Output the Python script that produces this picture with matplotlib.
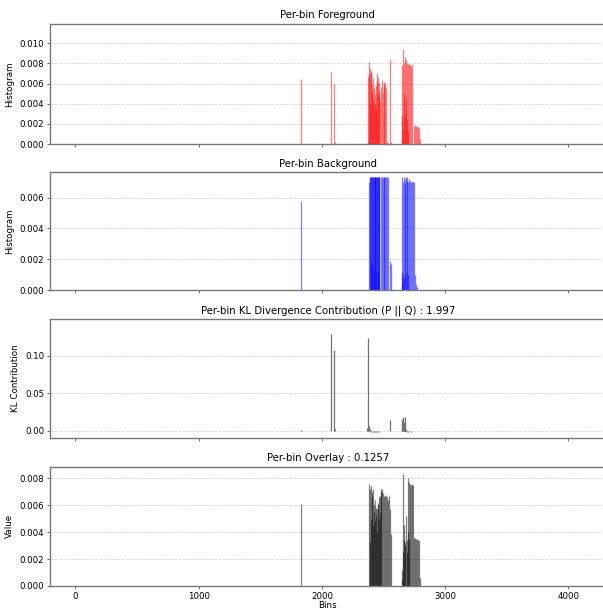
import numpy as np
import matplotlib
matplotlib.use("Agg")
import matplotlib.pyplot as plt
from matplotlib.ticker import MultipleLocator

# foreground histogram (red)
fg_bins = [1828, 2072, 2099, 2108,
           2372, 2376, 2380, 2384, 2388, 2392, 2396, 2400, 2404, 2408, 2412, 2416, 2420,
           2424, 2428, 2432, 2436, 2440, 2444, 2448, 2452, 2456, 2460, 2464, 2468,
           2476, 2484, 2492, 2500, 2508, 2516, 2524, 2532, 2540, 2552, 2560,
           2646, 2650, 2654, 2658, 2662, 2666, 2670, 2674, 2678, 2682, 2686, 2690, 2694, 2698,
           2702, 2710, 2718, 2726, 2734, 2744, 2752, 2760, 2768, 2776, 2784, 2792]
fg_vals = [0.0064, 0.0071, 0.0060, 0.0002,
           0.0002, 0.0066, 0.0069, 0.0081, 0.0040, 0.0075, 0.0070, 0.0072, 0.0052, 0.0060, 0.0065, 0.0045, 0.0056,
           0.0038, 0.0050, 0.0041, 0.0035, 0.0058, 0.0070, 0.0062, 0.0048, 0.0066, 0.0053, 0.0061, 0.0044,
           0.0057, 0.0063, 0.0052, 0.0062, 0.0059, 0.0061, 0.0056, 0.0002, 0.0001, 0.0084, 0.0002,
           0.0003, 0.0028, 0.0078, 0.0015, 0.0094, 0.0050, 0.0080, 0.0030, 0.0086, 0.0045, 0.0083, 0.0025, 0.0080, 0.0012,
           0.0079, 0.0079, 0.0078, 0.0077, 0.0079, 0.0018, 0.0019, 0.0018, 0.0018, 0.0017, 0.0016, 0.0005]

# background histogram (blue)
bg_bins = [1830,
           2386, 2389, 2392, 2395, 2398, 2401, 2404, 2407, 2410, 2413, 2416, 2419, 2422, 2425,
           2428, 2431, 2434, 2437, 2440, 2443, 2446, 2449, 2452, 2455, 2458, 2461, 2464, 2467,
           2476, 2484, 2492, 2500, 2508, 2516, 2524, 2532, 2540, 2550, 2558,
           2646, 2650, 2654, 2658, 2662, 2666, 2670, 2674, 2678, 2682, 2686, 2690, 2694, 2698,
           2702, 2710, 2718, 2726, 2734, 2742, 2750, 2758, 2766, 2774]
bg_vals = [0.0058,
           0.0070, 0.0073, 0.0073, 0.0018, 0.0073, 0.0073, 0.0073, 0.0015, 0.0073, 0.0073, 0.0073, 0.0073, 0.0013, 0.0073,
           0.0073, 0.0073, 0.0073, 0.0012, 0.0073, 0.0073, 0.0073, 0.0073, 0.0073, 0.0012, 0.0073, 0.0073, 0.0073, 0.0073,
           0.0073, 0.0073, 0.0073, 0.0073, 0.0073, 0.0073, 0.0073, 0.0073, 0.0073, 0.0019, 0.0017,
           0.0005, 0.0012, 0.0073, 0.0010, 0.0070, 0.0073, 0.0008, 0.0072, 0.0069, 0.0073, 0.0011, 0.0071, 0.0073, 0.0010,
           0.0070, 0.0072, 0.0071, 0.0070, 0.0071, 0.0070, 0.0070, 0.0010, 0.0004, 0.0002]

# per-bin KL contribution
kl_bins = [1828, 2072, 2099, 2108,
           2366, 2371, 2378, 2386, 2392, 2400, 2410, 2420, 2430, 2440, 2450, 2460, 2470,
           2480, 2490, 2500, 2510, 2520, 2540, 2552,
           2648, 2652, 2656, 2660, 2664, 2668, 2672, 2676, 2680, 2690, 2700, 2720, 2740, 2760, 2780]
kl_vals = [0.0006, 0.129, 0.108, 0.003,
           0.004, 0.124, 0.003, 0.006, 0.002, -0.001, -0.0015, -0.001, -0.0012, -0.001, -0.0008, -0.001, -0.0005,
           -0.0003, -0.0005, -0.0002, -0.0003, -0.0002, 0.0005, 0.014,
           0.010, 0.016, 0.004, 0.019, 0.012, 0.005, 0.018, 0.006, 0.002, -0.001, -0.0012, -0.0008, -0.0006, -0.0005, -0.0004]

# per-bin overlay
ov_bins = [1830,
           2384, 2388, 2392, 2396, 2400, 2404, 2408, 2412, 2416, 2420, 2424, 2428, 2432,
           2436, 2440, 2444, 2448, 2452, 2456, 2460, 2464, 2468, 2472, 2476, 2480,
           2488, 2496, 2504, 2512, 2520, 2528, 2536, 2544, 2552, 2560,
           2648, 2652, 2656, 2661, 2665, 2669, 2673, 2677, 2683, 2688, 2692, 2697, 2702,
           2706, 2710, 2716, 2722, 2728, 2736, 2744, 2752, 2760, 2768, 2776, 2784, 2792]
ov_vals = [0.0061,
           0.0076, 0.0033, 0.0072, 0.0074, 0.0050, 0.0066, 0.0070, 0.0045, 0.0072, 0.0060, 0.0055, 0.0064, 0.0048,
           0.0058, 0.0053, 0.0057, 0.0040, 0.0060, 0.0062, 0.0050, 0.0066, 0.0067, 0.0055, 0.0070, 0.0072,
           0.0072, 0.0069, 0.0067, 0.0067, 0.0068, 0.0066, 0.0064, 0.0067, 0.0057, 0.0039,
           0.0005, 0.0012, 0.0025, 0.0083, 0.0034, 0.0045, 0.0030, 0.0033, 0.0052, 0.0025, 0.0034, 0.0040, 0.0080,
           0.0035, 0.0077, 0.0076, 0.0075, 0.0076, 0.0075, 0.0036, 0.0036, 0.0035, 0.0035, 0.0034, 0.0034, 0.0006]

kl_total = 1.997
overlay_total = 0.1257

fig = plt.figure(figsize=(6.03, 6.12), dpi=100)
left, width = 0.083, 0.921
ax1 = fig.add_axes([left, 0.7647, width, 0.196])
ax2 = fig.add_axes([left, 0.5257, width, 0.193], sharex=ax1)
ax3 = fig.add_axes([left, 0.2848, width, 0.194], sharex=ax1)
ax4 = fig.add_axes([left, 0.0425, width, 0.195], sharex=ax1)

lw = 0.9
ax1.vlines(fg_bins, 0, fg_vals, colors="red", linewidth=lw, alpha=0.5)
ax2.vlines(bg_bins, 0, bg_vals, colors="blue", linewidth=lw, alpha=0.5)
ax3.vlines(kl_bins, 0, kl_vals, colors="#707070", linewidth=lw)
ax4.vlines(ov_bins, 0, ov_vals, colors="black", linewidth=lw, alpha=0.5)

tfs = 7.3
ax1.set_title("Per-bin Foreground", fontsize=tfs, pad=4)
ax2.set_title("Per-bin Background", fontsize=tfs, pad=4)
ax3.set_title(f"Per-bin KL Divergence Contribution (P || Q) : {kl_total}", fontsize=tfs, pad=4)
ax4.set_title(f"Per-bin Overlay : {overlay_total}", fontsize=tfs, pad=4)

lfs = 6.3
ax1.set_ylabel("Histogram", fontsize=lfs)
ax2.set_ylabel("Histogram", fontsize=lfs)
ax3.set_ylabel("KL Contribution", fontsize=lfs)
ax4.set_ylabel("Value", fontsize=lfs)
ax4.set_xlabel("Bins", fontsize=lfs, labelpad=0)

ax1.set_xlim(-205, 4300)
ax1.set_ylim(0, 0.0119)
ax2.set_ylim(0, 0.00764)
ax3.set_ylim(-0.009, 0.149)
ax3.yaxis.set_major_locator(MultipleLocator(0.05))
ax4.set_ylim(0, 0.00887)

for ax in [ax1, ax2, ax3, ax4]:
    ax.grid(axis="y", linestyle="--", color="#cccccc", linewidth=0.6, alpha=0.8)
    ax.set_axisbelow(True)
    ax.tick_params(labelsize=6.2, length=2.5, width=0.6, pad=1.5, color="#555555")
    for s in ax.spines.values():
        s.set_color("#777777")
        s.set_linewidth(1.0)
for ax in [ax1, ax2, ax3]:
    ax.tick_params(labelbottom=False)

fig.savefig("out.png", dpi=100)
